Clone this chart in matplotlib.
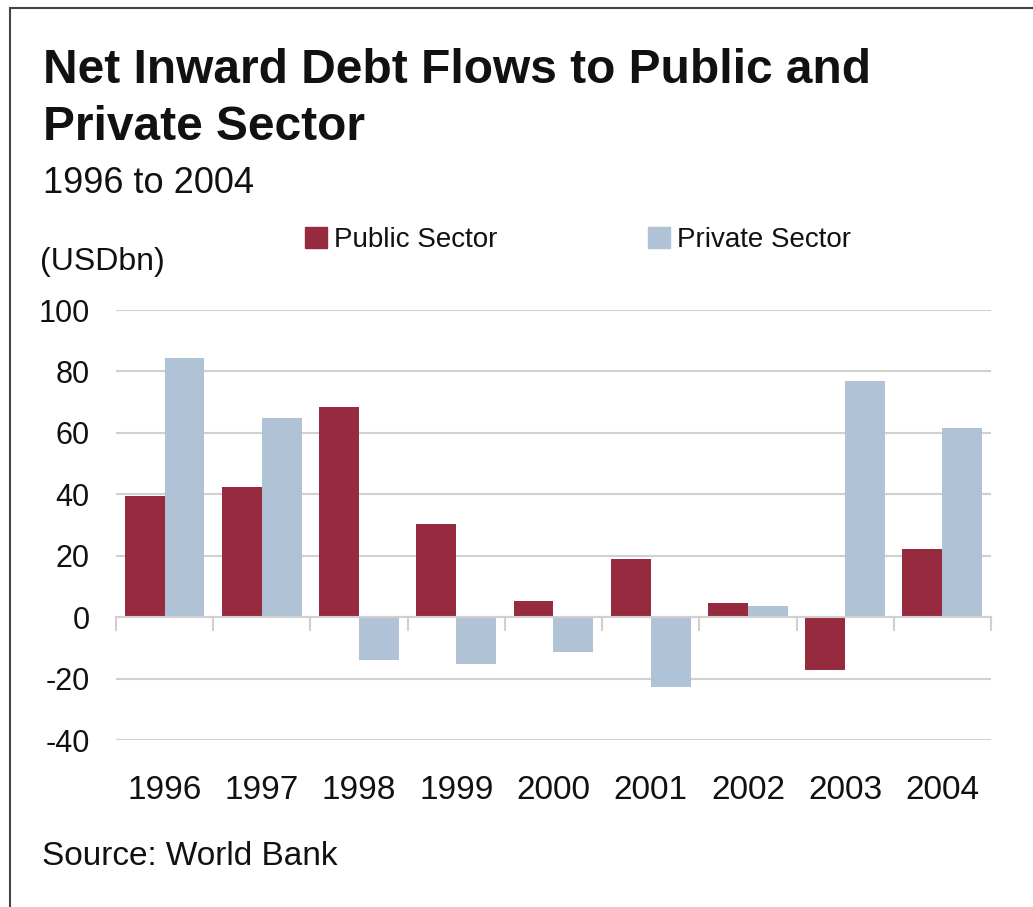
import matplotlib.pyplot as plt
import matplotlib.transforms as mtransforms
from matplotlib.patches import Patch, Rectangle
import numpy as np

plt.rcParams['font.family'] = ['Liberation Sans', 'DejaVu Sans']
plt.rcParams['axes.unicode_minus'] = False

years = ['1996', '1997', '1998', '1999', '2000', '2001', '2002', '2003', '2004']
public_sector = [39.3, 42.3, 68.4, 30.4, 5.2, 18.9, 4.7, -17.1, 22.2]
private_sector = [84.5, 64.8, -13.8, -15.2, -11.2, -22.8, 3.7, 77.0, 61.5]
y_ticks = [-40, -20, 0, 20, 40, 60, 80, 100]

public_color = '#962B40'
private_color = '#B0C3D6'
grid_color = '#D0D0D0'
text_color = '#111111'

fig = plt.figure(figsize=(10.33, 9.07), dpi=100)
ax = fig.add_axes([0.1123, 0.1841, 0.847, 0.4741])

x = np.arange(len(years))
w = 0.41
ax.bar(x - w / 2, public_sector, w, color=public_color, zorder=3)
ax.bar(x + w / 2, private_sector, w, color=private_color, zorder=3)

ax.set_xlim(-0.5, len(years) - 0.5)
ax.set_ylim(-40, 100)
ax.set_yticks(y_ticks)
ax.yaxis.grid(True, color=grid_color, lw=1.5, zorder=0)
ax.tick_params(axis='y', length=0, pad=19, labelsize=22, labelcolor=text_color)

# zero line with short category separators hanging below it
for side in ['top', 'right', 'left']:
    ax.spines[side].set_visible(False)
ax.spines['bottom'].set_position(('data', 0))
ax.spines['bottom'].set_color(grid_color)
ax.spines['bottom'].set_linewidth(1.5)
ax.spines['bottom'].set_zorder(4)
ax.set_xticks(np.arange(len(years) + 1) - 0.5)
ax.set_xticklabels([])
ax.tick_params(axis='x', direction='out', length=10, width=1.5, color=grid_color)

trans = mtransforms.blended_transform_factory(ax.transData, fig.transFigure)
for xi, yr in zip(x, years):
    ax.text(xi, 1 - 799 / 907, yr, transform=trans, ha='center', va='baseline',
            fontsize=24, color=text_color)

# baseline alignment on a two-line text follows the last line
fig.text(43 / 1033, 1 - 140 / 907, 'Net Inward Debt Flows to Public and\nPrivate Sector',
         fontsize=34.5, fontweight='bold', color=text_color, va='baseline', linespacing=1.34)
fig.text(43 / 1033, 1 - 193 / 907, '1996 to 2004', fontsize=26, color=text_color, va='baseline')
fig.text(40 / 1033, 1 - 270 / 907, '(USDbn)', fontsize=23, color=text_color, va='baseline')
fig.text(42 / 1033, 1 - 865 / 907, 'Source: World Bank', fontsize=24, color=text_color, va='baseline')

handles = [Patch(color=public_color), Patch(color=private_color)]
fig.legend(handles, ['Public Sector', 'Private Sector'], loc='center left',
           bbox_to_anchor=(305 / 1033, 1 - 240 / 907), ncol=2, frameon=False,
           fontsize=20, handlelength=0.8, handleheight=0.8, handletextpad=0.25,
           columnspacing=5.42, borderpad=0, borderaxespad=0, labelcolor=text_color)

# outer frame (left and top edges visible)
fig.patches.append(Rectangle((10 / 1033, -0.1), 1.2, 1.1 - 8 / 907,
                             transform=fig.transFigure, fill=False,
                             edgecolor='#444444', lw=1.5))

fig.savefig('out.png', dpi=100)
